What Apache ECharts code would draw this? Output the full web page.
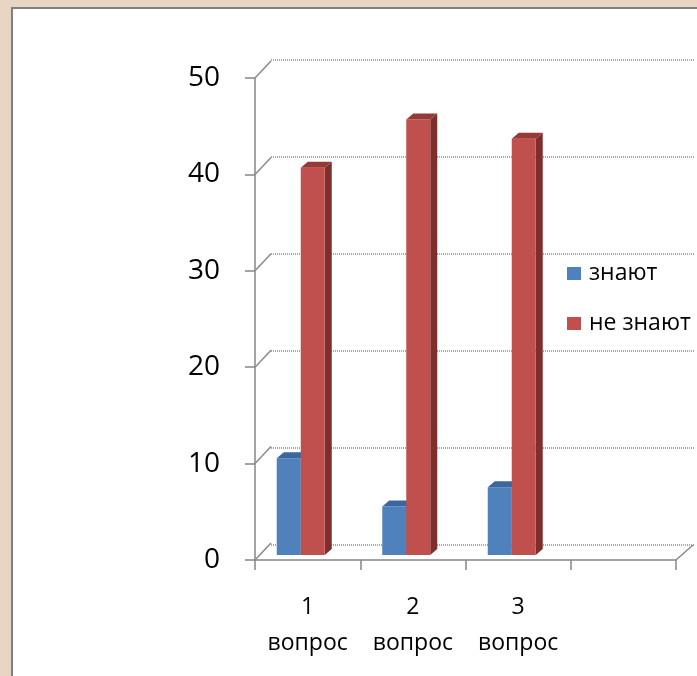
<!DOCTYPE html>
<html>
<head>
<meta charset="utf-8">
<script src="https://cdn.jsdelivr.net/npm/echarts@6/dist/echarts.min.js"></script>
<style>
html,body{margin:0;padding:0;background:#E8D5C3;}
#c{width:697px;height:676px;}
</style>
</head>
<body>
<div id="c"></div>
<script>
const categories = ['1\nвопрос', '2\nвопрос', '3\nвопрос', ''];
const seriesNames = ['знают', 'не знают'];
const znayut = [10, 5, 7];
const neZnayut = [40, 45, 43];
const yTicks = [0, 10, 20, 30, 40, 50];

const FONT = '"Open Sans", "Noto Sans", sans-serif';
const BAR_W = 24, DX = 7, DY = -6;
const faces = [
  {front: '#4F81BD', top: '#3A679F', side: '#365D8C'},
  {front: '#C0504D', top: '#973A37', side: '#7E2F2D'}
];

function barRender(idx) {
  return function (params, api) {
    const c = api.coord([api.value(0), api.value(1)]);
    const b = api.coord([api.value(0), 0]);
    const x0 = idx === 0 ? c[0] - BAR_W : c[0];
    const x1 = x0 + BAR_W;
    const f = faces[idx];
    return {
      type: 'group',
      children: [
        {type: 'polygon', shape: {points: [[x1, c[1]], [x1 + DX, c[1] + DY], [x1 + DX, b[1] + DY], [x1, b[1]]]}, style: {fill: f.side}},
        {type: 'rect', shape: {x: x0, y: c[1], width: BAR_W, height: b[1] - c[1]}, style: {fill: f.front}},
        {type: 'polygon', shape: {points: [[x0, c[1]], [x1, c[1]], [x1 + DX, c[1] + DY], [x0 + DX, c[1] + DY]]}, style: {fill: f.top}}
      ]
    };
  };
}

const chart = echarts.init(document.getElementById('c'));
chart.setOption({
  backgroundColor: '#E8D5C3',
  animation: false,
  graphic: [{
    type: 'rect', z: -10,
    shape: {x: 12, y: 8, width: 700, height: 700},
    style: {fill: '#ffffff', stroke: '#7f7f7f', lineWidth: 2}
  }],
  legend: {
    orient: 'vertical', left: 562, top: 257,
    itemWidth: 14, itemHeight: 13, itemGap: 27,
    icon: 'rect',
    textStyle: {fontFamily: FONT, fontSize: 23, color: '#000', padding: [0, 0, 0, 3]},
    data: seriesNames
  },
  grid: [
    {left: 255, right: 21, top: 78, bottom: 116},
    {left: 271, right: 2, top: 60, bottom: 131},
    {left: 248, right: 27, top: 71, bottom: 121}
  ],
  xAxis: [
    {gridIndex: 0, type: 'category', data: categories, boundaryGap: true,
      axisLine: {lineStyle: {color: '#868686', width: 1.5}},
      axisTick: {show: true, length: 10, lineStyle: {color: '#868686', width: 1.5}},
      axisLabel: {fontFamily: FONT, fontSize: 23, color: '#000', lineHeight: 36, margin: 29, interval: 0}},
    {gridIndex: 1, type: 'category', data: categories, show: false},
    {gridIndex: 2, type: 'category', data: categories, show: false}
  ],
  yAxis: [
    {gridIndex: 0, type: 'value', min: 0, max: 50, interval: 10,
      axisLine: {show: true, lineStyle: {color: '#868686', width: 1.5}},
      axisTick: {show: true, length: 10, lineStyle: {color: '#868686', width: 1.5}},
      splitLine: {show: false},
      axisLabel: {fontFamily: FONT, fontSize: 28, color: '#000', margin: 35}},
    {gridIndex: 1, type: 'value', min: 0, max: 50, interval: 10,
      axisLine: {show: false}, axisTick: {show: false}, axisLabel: {show: false},
      splitLine: {show: true, lineStyle: {color: '#a8a8a8', width: 2, type: [1, 1]}}},
    {gridIndex: 2, type: 'value', min: 0, max: 50, show: false, splitLine: {show: false}}
  ],
  series: [
    {
      type: 'custom', name: 'connectors', xAxisIndex: 0, yAxisIndex: 0, silent: true,
      data: yTicks.map(v => [0, v]),
      renderItem: function (params, api) {
        const y = api.coord([0, api.value(1)])[1];
        const x = params.coordSys.x;
        const children = [{type: 'line', shape: {x1: x, y1: y, x2: x + 16, y2: y - 17},
          style: {stroke: '#8a8a8a', lineWidth: 1.5}}];
        if (api.value(1) === 0) {
          const xr = params.coordSys.x + params.coordSys.width;
          children.push({type: 'line', shape: {x1: xr, y1: y, x2: xr + 17, y2: y - 15},
            style: {stroke: '#8a8a8a', lineWidth: 1.5}});
        }
        return {type: 'group', children: children};
      }
    },
    {
      type: 'custom', name: seriesNames[0], xAxisIndex: 2, yAxisIndex: 2,
      itemStyle: {color: faces[0].front},
      data: znayut.map((v, i) => [i, v]),
      renderItem: barRender(0)
    },
    {
      type: 'custom', name: seriesNames[1], xAxisIndex: 2, yAxisIndex: 2,
      itemStyle: {color: faces[1].front},
      data: neZnayut.map((v, i) => [i, v]),
      renderItem: barRender(1)
    }
  ]
});
</script>
</body>
</html>
